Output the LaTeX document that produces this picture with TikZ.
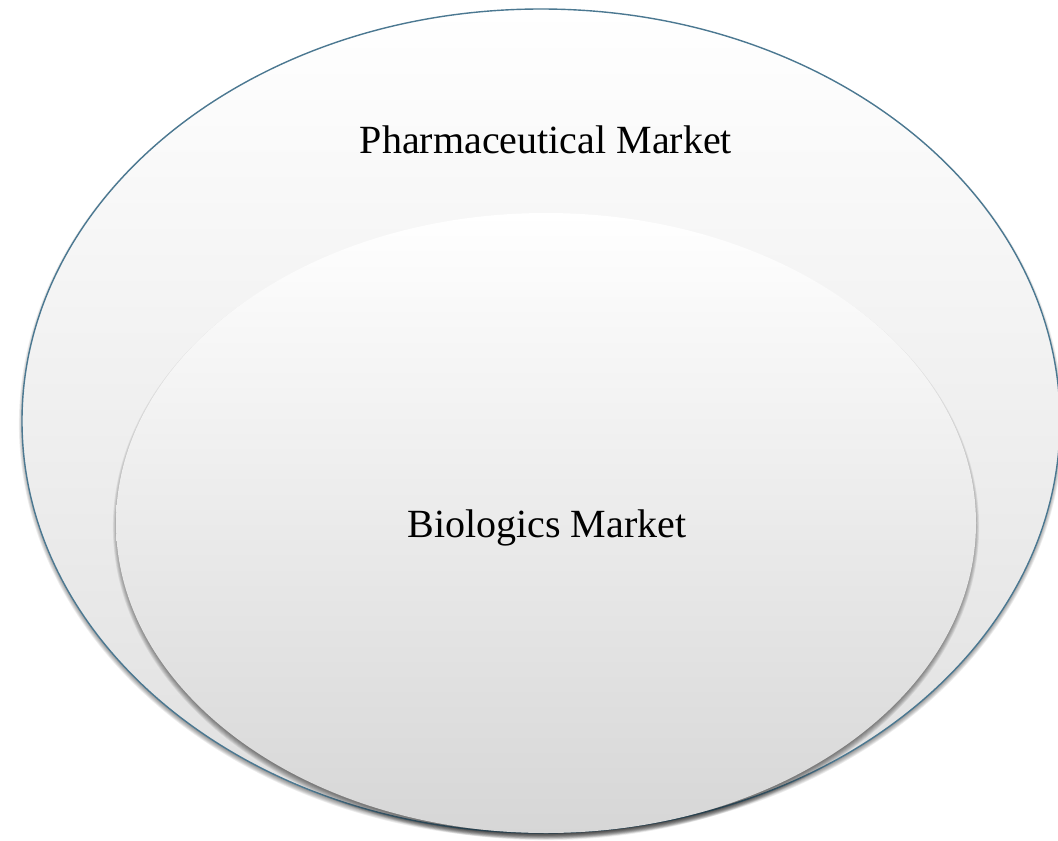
\documentclass[tikz,border=0pt]{standalone}
\usepackage{fontspec}
\setmainfont{Liberation Serif}
\usetikzlibrary{shapes.geometric}
\definecolor{rimblue}{HTML}{4B7891}
\tikzset{
  market/.style={ellipse, inner sep=0pt, top color=white, bottom color=#1, shading angle=0},
  label/.style={font=\fontsize{40}{44}\selectfont, text=black, anchor=base},
}
\newcommand{\fakeshadow}[5]{% cx cy rx ry dy
  \foreach \k in {0,...,7}{
    \fill[black, opacity=0.07] (#1,#2+#5) ellipse [x radius={#3pt+\k*0.8pt-2.5pt}, y radius={#4pt+\k*0.8pt-2.5pt}];
  }
}
\begin{document}
\begin{tikzpicture}[x=1pt,y=-1pt]
\useasboundingbox (0,0) rectangle (1058,841);
\clip (0,0) rectangle (1058,841);
\fill[white] (0,0) rectangle (1058,841);
% outer ellipse
\fakeshadow{541}{421}{519}{412}{3}
\node[market=gray!25, draw=rimblue, line width=1.4pt, minimum width=1038pt, minimum height=824pt] (pharma) at (541,421) {};
\node[label] (pharmatext) at (546,153) {Pharmaceutical Market};
% inner ellipse
\fakeshadow{546}{523}{430}{310}{4}
\node[market=gray!32, minimum width=860pt, minimum height=620pt] (bio) at (546,523) {};
\node[label] (biotext) at (547,537) {Biologics Market};
\end{tikzpicture}
\end{document}
